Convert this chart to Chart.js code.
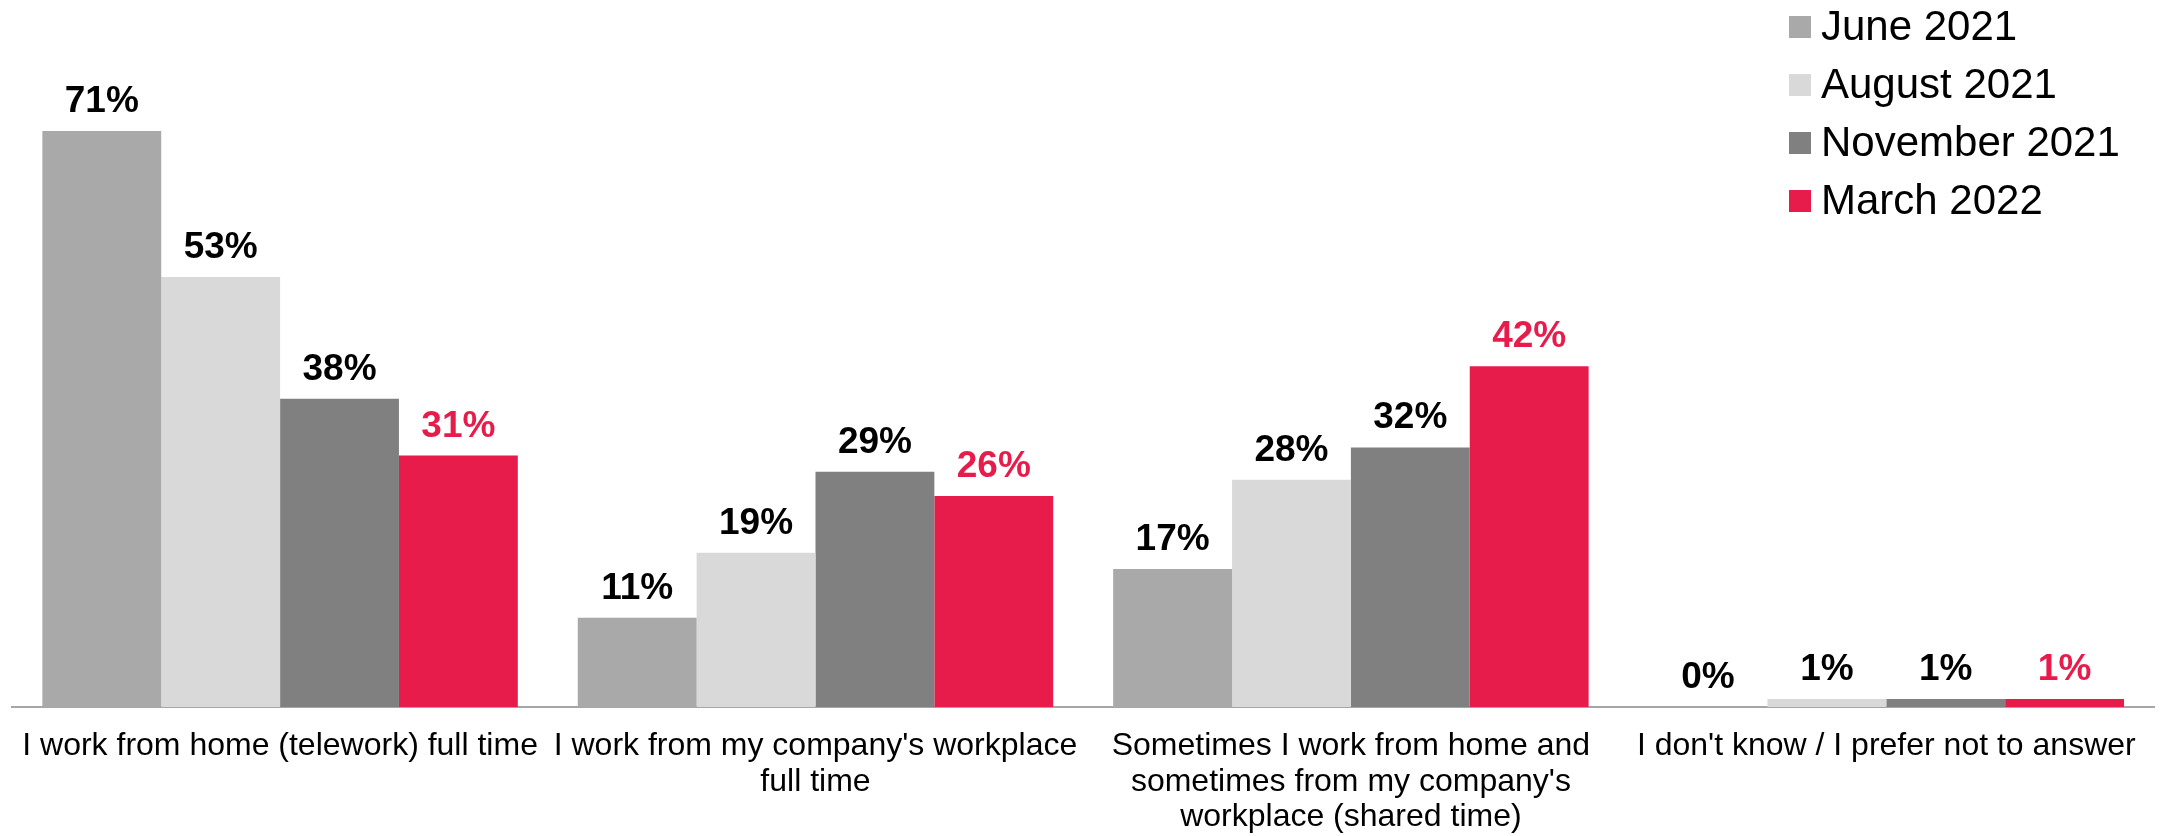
<!DOCTYPE html>
<html lang="en">
<head>
  <meta charset="UTF-8" />
  <title>Where do you work?</title>
  <script src="https://cdn.jsdelivr.net/npm/chart.js"></script>
  <style>
    body {
      margin: 0;
      background: #fff;
    }
    .chart-container {
      width: 2163px;
      height: 836px;
    }
  </style>
</head>
<body>

  <div class="chart-container">
    <canvas id="workChart"></canvas>
  </div>

<script>
  const categories = [
    'I work from home (telework) full time',
    ["I work from my company's workplace", 'full time'],
    ['Sometimes I work from home and', "sometimes from my company's", 'workplace (shared time)'],
    "I don't know / I prefer not to answer"
  ];
  const seriesNames = ['June 2021', 'August 2021', 'November 2021', 'March 2022'];
  const june2021 = [71, 11, 17, 0];
  const august2021 = [53, 19, 28, 1];
  const november2021 = [38, 29, 32, 1];
  const march2022 = [31, 26, 42, 1];

  const barColors = ['#A9A9A9', '#D9D9D9', '#808080', '#E81C4B'];
  const labelColors = ['#000000', '#000000', '#000000', '#E81C4B'];
  const fontFamily = '"Liberation Sans", Arial, sans-serif';

  // value labels above each bar
  const valueLabels = {
    id: 'valueLabels',
    afterDatasetsDraw(chart) {
      const ctx = chart.ctx;
      ctx.save();
      ctx.font = 'bold 37px ' + fontFamily;
      ctx.textAlign = 'center';
      ctx.textBaseline = 'alphabetic';
      chart.data.datasets.forEach((ds, i) => {
        const meta = chart.getDatasetMeta(i);
        ctx.fillStyle = labelColors[i];
        meta.data.forEach((bar, j) => {
          ctx.fillText(ds.data[j] + '%', bar.x, bar.y - 19);
        });
      });
      ctx.restore();
    }
  };

  // legend in the top right corner, over the chart area
  const cornerLegend = {
    id: 'cornerLegend',
    afterDraw(chart) {
      const ctx = chart.ctx;
      ctx.save();
      ctx.font = '42px ' + fontFamily;
      ctx.textBaseline = 'middle';
      ctx.textAlign = 'left';
      chart.data.datasets.forEach((ds, i) => {
        const cy = 27 + i * 58;
        ctx.fillStyle = ds.backgroundColor;
        ctx.fillRect(1789, cy - 11, 22, 22);
        ctx.fillStyle = '#000';
        ctx.fillText(ds.label, 1821, cy + 1);
      });
      ctx.restore();
    }
  };

  const seriesData = [june2021, august2021, november2021, march2022];

  const ctx = document.getElementById('workChart').getContext('2d');
  new Chart(ctx, {
    type: 'bar',
    data: {
      labels: categories,
      datasets: seriesNames.map((name, i) => ({
        label: name,
        data: seriesData[i],
        backgroundColor: barColors[i],
        borderWidth: 0,
        barPercentage: 1,
        categoryPercentage: 0.888
      }))
    },
    options: {
      responsive: true,
      maintainAspectRatio: false,
      animation: false,
      layout: {
        padding: { top: 58, left: 10, right: 9, bottom: 0 }
      },
      plugins: {
        legend: { display: false },
        tooltip: { enabled: false }
      },
      scales: {
        x: {
          grid: { display: false, drawTicks: false },
          border: { display: true, color: '#A6A6A6', width: 2 },
          ticks: {
            color: '#000',
            font: { family: fontFamily, size: 32, lineHeight: 1.12 },
            padding: 21,
            maxRotation: 0,
            autoSkip: false
          },
          afterFit(scale) {
            scale.height = 129;
          }
        },
        y: {
          display: false,
          min: 0,
          max: 80
        }
      }
    },
    plugins: [valueLabels, cornerLegend]
  });
</script>
</body>
</html>
